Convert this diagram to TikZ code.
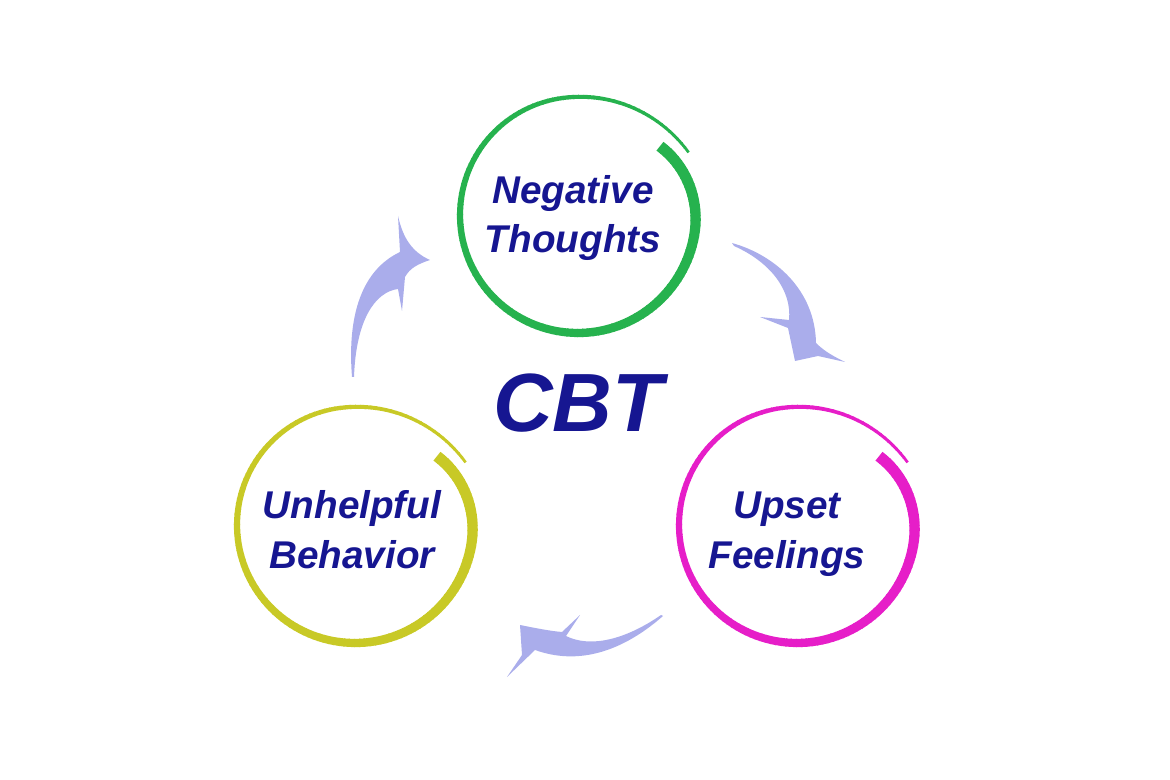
\documentclass[tikz,border=0pt]{standalone}
\usepackage{fontspec}
\setmainfont{Liberation Sans}
\definecolor{cbtblue}{RGB}{22,22,145}
\definecolor{ringgreen}{RGB}{38,178,78}
\definecolor{ringyellow}{RGB}{200,201,38}
\definecolor{ringpink}{RGB}{230,30,200}
\definecolor{swooshfill}{RGB}{170,173,235}
\begin{document}
\begin{tikzpicture}[x=0.01cm,y=-0.01cm,
  ringtext/.style={text=cbtblue,font=\fontsize{11}{14.2}\selectfont\bfseries\itshape,align=center},
  swoosh/.style={fill=swooshfill}]
  \useasboundingbox (0,0) rectangle (1170,780);
  \coordinate (gc) at (578,215);
  \coordinate (yc) at (355,525);
  \coordinate (pc) at (797,525);
  \foreach \c/\col in {gc/ringgreen,yc/ringyellow,pc/ringpink}
    \foreach \t in {0,2.5,...,367.5}
      {\pgfmathsetmacro\ra{118-11*max(0,1-\t/50)^2+9*max(0,(\t-300)/70)^2}
       \pgfmathsetmacro\rb{118-11*max(0,1-(\t+3)/50)^2+9*max(0,(\t+3-300)/70)^2}
       \pgfmathsetmacro\w{1.12-0.85*\t/370}
       \draw[\col,line width=\w mm,shift={(\c)}] (\t-40:\ra) -- (\t-37:\rb);}
  \node[ringtext] (neg) at (573,218) {Negative\\Thoughts};
  \node[ringtext] (unh) at (352,530) {Unhelpful\\Behavior};
  \node[ringtext] (ups) at (787,534) {Upset\\Feelings};
  \node[text=cbtblue,font=\fontsize{23.5}{28}\selectfont\bfseries\itshape] (cbt) at (578,403) {CBT};
  \fill[swoosh] (352,377) .. controls (347,315) and (362,270) .. (400,252) -- (398,216)
    .. controls (403,238) and (412,252) .. (430,260) .. controls (418,264) and (410,268) .. (405,277)
    -- (402,311) -- (398,289) .. controls (375,292) and (356,320) .. (354,377) -- cycle;
  \fill[swoosh] (732,243) .. controls (775,255) and (815,290) .. (816,343)
    .. controls (825,352) and (835,357) .. (845,362) -- (818,356) -- (795,361) -- (788,328)
    -- (760,317) -- (789,320) .. controls (792,290) and (770,262) .. (734,246) -- cycle;
  \fill[swoosh] (663,616) .. controls (630,645) and (585,668) .. (535,650) -- (507,677)
    -- (522,655) -- (520,625) .. controls (535,628) and (550,631) .. (562,632) -- (580,615)
    -- (566,636) .. controls (590,648) and (625,640) .. (661,615) -- cycle;
\end{tikzpicture}
\end{document}
